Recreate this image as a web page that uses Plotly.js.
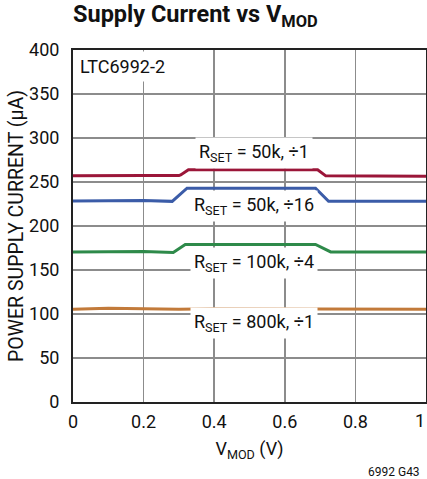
<!DOCTYPE html>
<html>
<head>
<meta charset="utf-8">
<script src="https://cdn.plot.ly/plotly-3.0.1.min.js"></script>
<style>html,body{margin:0;padding:0;background:#fff;}#chart{width:427px;height:479px;}</style>
</head>
<body>
<div id="chart"></div>
<script>
// Data
const xRed = [0, 0.1, 0.2, 0.3, 0.305, 0.327, 0.4, 0.5, 0.6, 0.693, 0.716, 0.8, 0.9, 1];
const yRed = [257, 257.5, 257.5, 257.3, 258, 264, 264, 264, 264, 264, 257, 256.7, 256.6, 256.6];

const xBlue = [0, 0.1, 0.2, 0.281, 0.323, 0.4, 0.5, 0.6, 0.687, 0.724, 0.8, 0.9, 1];
const yBlue = [228.5, 229, 229, 228, 243, 243, 243, 243, 243, 228, 228, 228, 228];

const xGreen = [0, 0.1, 0.2, 0.284, 0.318, 0.4, 0.5, 0.6, 0.687, 0.73, 0.8, 0.9, 1];
const yGreen = [170.5, 171, 171, 170, 179, 179, 179, 179, 179, 170.5, 170.5, 170.5, 170.5];

const xOrange = [0, 0.1, 0.2, 0.3, 0.4, 0.5, 0.6, 0.7, 0.8, 0.9, 1];
const yOrange = [105.5, 106.5, 106, 105.5, 106, 106, 106, 105.8, 105.5, 105.5, 105.5];

const seriesLabels = ['R<sub>SET</sub> = 50k, ÷1', 'R<sub>SET</sub> = 50k, ÷16', 'R<sub>SET</sub> = 100k, ÷4', 'R<sub>SET</sub> = 800k, ÷1'];
const labelY = [283, 223, 158.5, 89.5];
const xTicks = [0, 0.2, 0.4, 0.6, 0.8, 1];
const xTickText = ['0', '0.2', '0.4', '0.6', '0.8', ''];
const xLastTick = 1;
const xLastTickText = '1';
const yTicks = [0, 50, 100, 150, 200, 250, 300, 350, 400];

const FONT = 'Roboto, "DejaVu Sans Condensed", sans-serif';
const colors = ['#9b1639', '#3b5ca8', '#2e8a4a', '#c27a3a'];

const mk = (x, y, c) => ({x: x, y: y, type: 'scatter', mode: 'lines', line: {color: c, width: 3}, hoverinfo: 'skip', showlegend: false});
const data = [
  mk(xOrange, yOrange, colors[3]),
  mk(xGreen, yGreen, colors[2]),
  mk(xBlue, yBlue, colors[1]),
  mk(xRed, yRed, colors[0])
];

const annotations = seriesLabels.map((t, i) => ({
  text: t, x: 0.512, y: labelY[i], xref: 'x', yref: 'y', showarrow: false,
  bgcolor: '#fff', borderpad: 3, font: {family: FONT, size: 18, color: '#111'}
}));
annotations.push({
  text: 'LTC6992-2', x: 0, y: 1, xref: 'paper', yref: 'paper', xanchor: 'left', yanchor: 'top',
  showarrow: false, bgcolor: '#fff', borderpad: 4, xshift: 2, yshift: -1,
  font: {family: FONT, size: 18, color: '#111'}
});
annotations.push({
  text: '6992 G43', x: 1, y: -0.199, xref: 'paper', yref: 'paper', xanchor: 'right', yanchor: 'middle',
  showarrow: false, xshift: -4, font: {family: FONT, size: 12, color: '#111'}
});
// last x tick label, kept inside the window edge
annotations.push({
  text: xLastTickText, x: xLastTick, y: 0, xref: 'x', yref: 'paper', xanchor: 'right', yanchor: 'top',
  showarrow: false, borderpad: 0, xshift: 0, yshift: -7,
  font: {family: FONT, size: 18, color: '#111'}
});

const layout = {
  width: 427, height: 479,
  margin: {l: 73, r: 1, t: 50, b: 77},
  paper_bgcolor: '#fff', plot_bgcolor: '#fff',
  font: {family: FONT, size: 18, color: '#111'},
  title: {
    text: 'Supply Current vs V<sub>MOD</sub>',
    x: 0, xref: 'paper', xanchor: 'left',
    y: 1 - 14 / 479, yref: 'container', yanchor: 'middle',
    font: {family: FONT, size: 23.5, color: '#111', weight: 'bold'}
  },
  xaxis: {
    range: [0, 1], tickvals: xTicks, ticktext: xTickText, ticks: '',
    showgrid: true, gridcolor: '#8c8c8c', gridwidth: 1.5, zeroline: false,
    showline: true, linecolor: '#222', linewidth: 2, mirror: true,
    ticklabelstandoff: 2,
    tickfont: {family: FONT, size: 18, color: '#111'},
    title: {text: 'V<sub>MOD</sub> (V)', font: {family: FONT, size: 18, color: '#111'}, standoff: 12},
    fixedrange: true
  },
  yaxis: {
    range: [0, 400], tickvals: yTicks, ticks: '',
    showgrid: true, gridcolor: '#8c8c8c', gridwidth: 1.5, zeroline: false,
    showline: true, linecolor: '#222', linewidth: 2, mirror: true,
    ticklabelstandoff: 8,
    tickfont: {family: FONT, size: 18, color: '#111'},
    title: {text: 'POWER SUPPLY CURRENT (µA)', font: {family: FONT, size: 19.5, color: '#111'}, standoff: 0},
    fixedrange: true
  },
  annotations: annotations
};

Plotly.newPlot('chart', data, layout, {displayModeBar: false, staticPlot: true});
</script>
</body>
</html>
